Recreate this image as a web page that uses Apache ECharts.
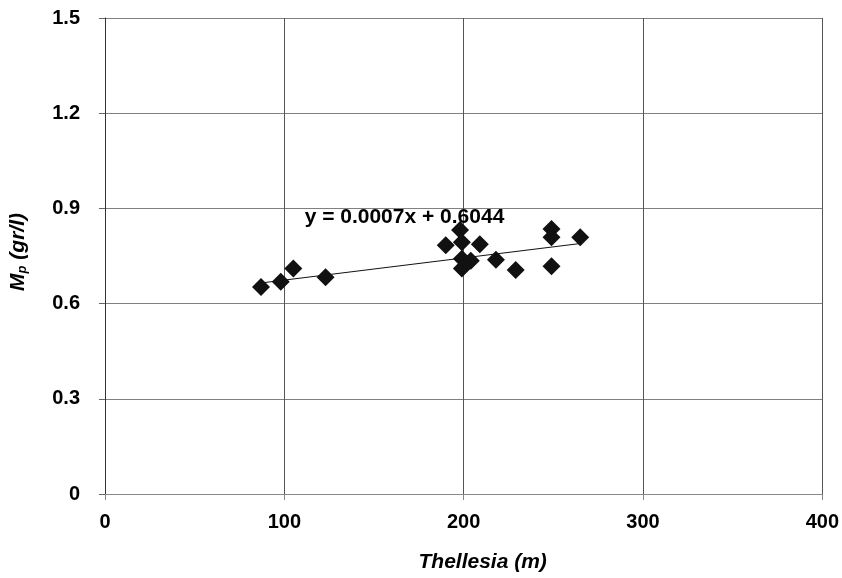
<!DOCTYPE html>
<html>
<head>
<meta charset="utf-8">
<script src="https://cdn.jsdelivr.net/npm/echarts@6/dist/echarts.min.js"></script>
<style>html,body{margin:0;padding:0;background:#fff;}#c{width:842px;height:578px;}</style>
</head>
<body>
<div id="c"></div>
<script>
// Data
var thellesia = [87, 98, 105, 123, 190, 198, 199, 199, 199, 204, 209, 218, 229, 249, 249, 249, 265];
var mp =        [0.652, 0.669, 0.711, 0.683, 0.784, 0.832, 0.793, 0.741, 0.711, 0.735, 0.787, 0.738, 0.706, 0.835, 0.809, 0.718, 0.809];
var trendX = [87, 266];
var trendY = [0.665, 0.790];
var equationText = 'y = 0.0007x + 0.6044';
var equationPos = [167, 0.872];
var xTicks = [0, 100, 200, 300, 400];
var yTicks = ['0', '0.3', '0.6', '0.9', '1.2', '1.5'];

var pts = thellesia.map(function (x, i) { return [x, mp[i]]; });
var trend = trendX.map(function (x, i) { return [x, trendY[i]]; });
var FONT = '"Liberation Sans", Arial, sans-serif';

var chart = echarts.init(document.getElementById('c'), null, {renderer: 'canvas'});
chart.setOption({
  backgroundColor: '#fff',
  animation: false,
  grid: {left: 103, right: 19, top: 18, bottom: 82, containLabel: false},
  xAxis: {
    type: 'value', min: 0, max: 400, interval: 100,
    name: 'Thellesia (m)', nameLocation: 'middle', nameGap: 58,
    nameTextStyle: {fontFamily: FONT, fontSize: 21, fontWeight: 'bold', fontStyle: 'italic', color: '#000', padding: [0, 0, 0, 38]},
    axisLine: {show: true, onZero: false, lineStyle: {color: '#888', width: 1}},
    axisTick: {show: true, length: 6, lineStyle: {color: '#888'}},
    axisLabel: {fontFamily: FONT, fontSize: 20, fontWeight: 'bold', color: '#000', margin: 18,
      formatter: function (v) { return xTicks.indexOf(v) >= 0 ? String(v) : ''; }},
    splitLine: {show: true, lineStyle: {color: '#555', width: 1}}
  },
  yAxis: {
    type: 'value', min: 0, max: 1.5, interval: 0.3,
    name: '{m|M}{s|p}{m| (gr/l)}', nameLocation: 'middle', nameGap: 76, nameRotate: 90,
    nameTextStyle: {
      padding: [0, 0, 0, 8],
      rich: {
        m: {fontFamily: FONT, fontSize: 21, fontWeight: 'bold', fontStyle: 'italic', color: '#000', verticalAlign: 'middle'},
        s: {fontFamily: FONT, fontSize: 13, fontWeight: 'bold', fontStyle: 'italic', color: '#000', verticalAlign: 'bottom', padding: [8, 0, 0, 0]}
      }
    },
    axisLine: {show: true, onZero: false, lineStyle: {color: '#333', width: 1}},
    axisTick: {show: true, length: 6, lineStyle: {color: '#666'}},
    axisLabel: {fontFamily: FONT, fontSize: 20, fontWeight: 'bold', color: '#000', margin: 25,
      formatter: function (v) { return yTicks[Math.round(v / 0.3)]; }},
    splitLine: {show: true, lineStyle: {color: '#808080', width: 1}}
  },
  series: [
    {
      type: 'line', data: trend, symbol: 'none', silent: true,
      lineStyle: {color: '#111', width: 1}, z: 1,
      markPoint: {
        symbol: 'circle', symbolSize: 1, itemStyle: {color: 'rgba(0,0,0,0)'},
        label: {show: true, position: 'inside', formatter: equationText, fontFamily: FONT, fontSize: 21, fontWeight: 'bold', color: '#000'},
        data: [{coord: equationPos}]
      }
    },
    {
      type: 'scatter', data: pts, symbol: 'diamond', symbolSize: 18,
      itemStyle: {color: '#111', opacity: 1}, z: 3
    }
  ]
});
</script>
</body>
</html>
